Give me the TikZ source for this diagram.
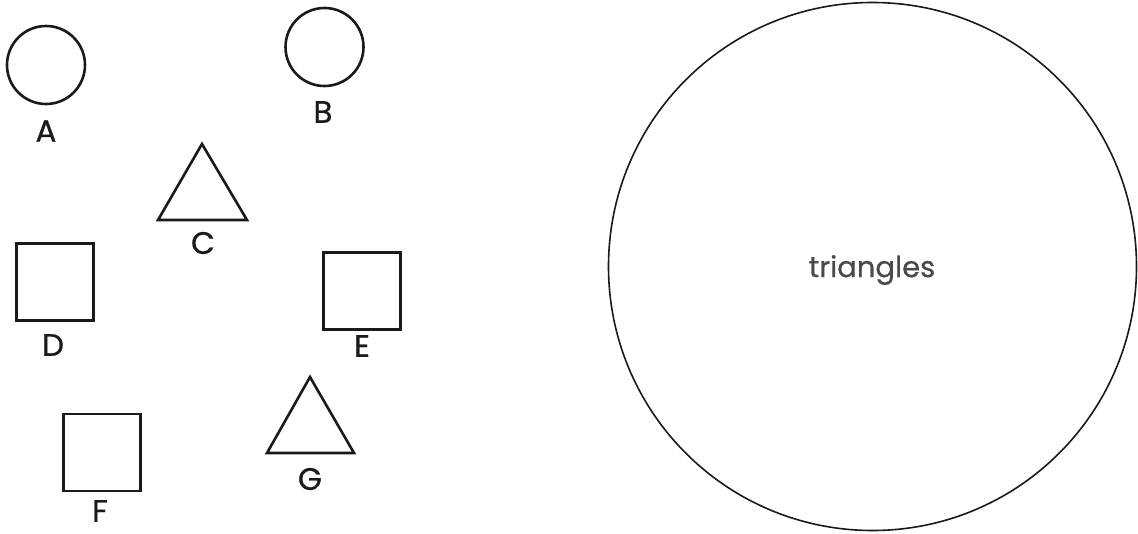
\documentclass[tikz,border=0pt]{standalone}
\usepackage{fontspec}
\setmainfont{Poppins}[FakeBold=0.6]
\usetikzlibrary{shapes.geometric}
\definecolor{ink}{HTML}{1A1A1A}
\definecolor{soft}{HTML}{4A4A4A}
\tikzset{
  outline/.style={draw=ink, line width=2.6pt, inner sep=0pt, outer sep=0pt},
  roundnode/.style={outline, circle, minimum size=78pt},
  sqnode/.style={outline, rectangle, minimum width=77pt, minimum height=77pt},
  lbl/.style={text=ink, font=\fontsize{31}{36}\selectfont, inner sep=0pt},
  tripath/.style={draw=ink, line width=2.6pt, line join=miter},
}
\begin{document}
\begin{tikzpicture}[x=1pt,y=-1pt]
\useasboundingbox[fill=white] (0,0) rectangle (1138,533);
% circles
\node[roundnode] (A) at (46,65) {};
\node[lbl] (lA) at (46,131) {A};
\node[roundnode] (B) at (324.5,47) {};
\node[lbl] (lB) at (323,112) {B};
% triangles
\draw[tripath] (202,144) -- (247,220) -- (158,220) -- cycle;
\node[lbl] (lC) at (203,243) {C};
\draw[tripath] (310,377) -- (354,453) -- (267,453) -- cycle;
\node[lbl] (lG) at (310,479) {G};
% squares
\node[sqnode] (D) at (55,282) {};
\node[lbl] (lD) at (53,345) {D};
\node[sqnode] (E) at (362,291) {};
\node[lbl] (lE) at (362,346) {E};
\node[sqnode] (F) at (102,452.5) {};
\node[lbl] (lF) at (100,511) {F};
% big circle
\node[draw=ink, line width=1.6pt, circle, minimum size=528pt, inner sep=0pt] (set) at (872.5,266.5) {};
\node[text=soft, font=\fontsize{29}{34}\selectfont, inner sep=0pt] (tri) at (872,270) {triangles};
\end{tikzpicture}
\end{document}
